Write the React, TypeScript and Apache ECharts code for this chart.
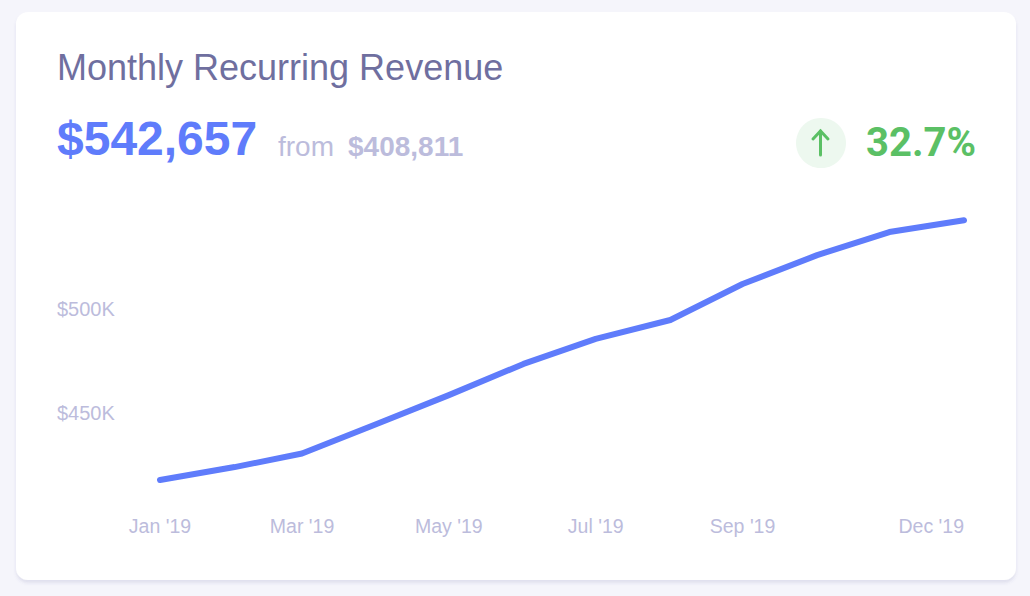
import React, { useEffect, useRef } from "react";
import * as echarts from "echarts";

const dayOffsets = [0,31,59,90,120,151,181,212,242,273,303,334];
const mrr = [417.8,424,430.5,444.7,458.6,473.6,485.6,494.7,512,525.9,537,542.7];
const monthLabels = ["Jan '19","Feb '19","Mar '19","Apr '19","May '19","Jun '19","Jul '19","Aug '19","Sep '19","Oct '19","Nov '19","Dec '19"];
const shownMonthIndexes = [0,2,4,6,8,11];
const shownTicks = [450, 500];
const titleText = "Monthly Recurring Revenue";
const currentText = "$542,657";
const fromWord = "from";
const fromValue = "$408,811";
const changeText = "32.7%";

const FONT = "'Liberation Sans', sans-serif";
const LIGHT = "#bcbcdc";

export default function App() {
  const ref = useRef<HTMLDivElement>(null);
  useEffect(() => {
    const chart = echarts.init(ref.current!, null, { renderer: "svg" });
    chart.setOption({
      animation: false,
      backgroundColor: "#f5f5fb",
      grid: { left: 160, right: 66, top: 205, height: 312 },
      xAxis: {
        type: "value", min: 0, max: 334,
        axisLine: { show: false }, axisTick: { show: false }, splitLine: { show: false },
        axisLabel: {
          customValues: shownMonthIndexes.map((i) => dayOffsets[i]),
          formatter: (v: number) => monthLabels[dayOffsets.indexOf(v)],
          color: LIGHT, fontFamily: FONT, fontSize: 19.5, margin: -1, hideOverlap: false,
          alignMaxLabel: "right",
        },
      },
      yAxis: {
        type: "value", min: 400, max: 550, interval: 50,
        axisLine: { show: false }, axisTick: { show: false }, splitLine: { show: false },
        axisLabel: {
          color: LIGHT, fontFamily: FONT, fontSize: 20, align: "left", margin: 103,
          formatter: (v: number) => (shownTicks.includes(v) ? `$${v}K` : ""),
        },
      },
      series: [{
        type: "line", data: dayOffsets.map((d, i) => [d, mrr[i]]), symbol: "none", smooth: false,
        lineStyle: { color: "#5f7cfb", width: 6, cap: "round", join: "round" },
      }],
      graphic: [
        { type: "rect", z: -1, shape: { x: 16, y: 12, width: 1000, height: 568, r: 12 },
          style: { fill: "#fff", shadowColor: "rgba(90,90,150,0.13)", shadowBlur: 3, shadowOffsetY: 3 } },
        { type: "text", x: 57, y: 67, style: { text: titleText, fill: "#6f6f9f", font: `36px ${FONT}`, textVerticalAlign: "middle" } },
        { type: "text", x: 57, y: 138, style: { text: currentText, fill: "#5f7cfb", font: `bold 48px ${FONT}`, textVerticalAlign: "middle" } },
        { type: "text", x: 278, y: 146, style: { text: fromWord, fill: LIGHT, font: `28px ${FONT}`, textVerticalAlign: "middle" } },
        { type: "text", x: 348, y: 146, style: { text: fromValue, fill: LIGHT, font: `bold 28px ${FONT}`, textVerticalAlign: "middle" } },
        { type: "circle", shape: { cx: 821, cy: 143, r: 25 }, style: { fill: "#edf8ef" } },
        { type: "line", shape: { x1: 820.5, y1: 131, x2: 820.5, y2: 155 }, style: { stroke: "#5bc065", lineWidth: 3, lineCap: "round" } },
        { type: "polyline", shape: { points: [[813, 139], [820.5, 131], [828, 139]] }, style: { stroke: "#5bc065", lineWidth: 3, lineCap: "round", fill: "none" } },
        { type: "text", x: 866, y: 142, style: { text: changeText, fill: "#5bc065", font: `bold 40px Roboto`, textVerticalAlign: "middle" } },
      ],
    });
    return () => chart.dispose();
  }, []);
  return <div ref={ref} style={{ position: "fixed", left: 0, top: 0, width: 1030, height: 596 }} />;
}
